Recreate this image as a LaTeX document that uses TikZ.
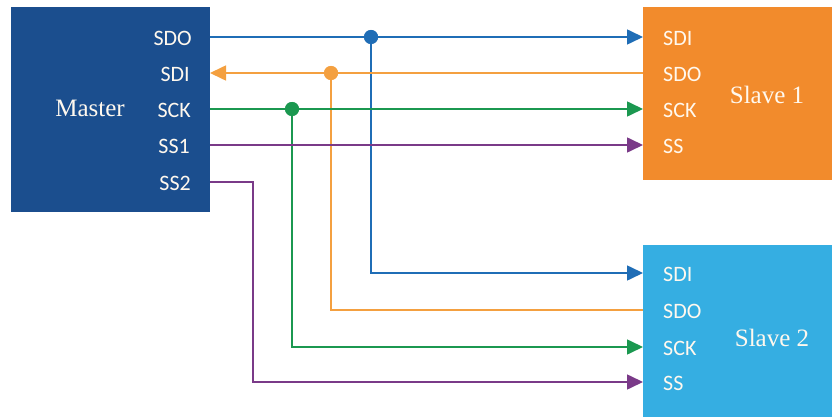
\documentclass[tikz,border=0pt]{standalone}
\usepackage{fontspec}
\setmainfont{Liberation Serif}
\newfontfamily\pinfont{Carlito}
\usetikzlibrary{arrows.meta}
\definecolor{masterblue}{HTML}{1B4E8E}
\definecolor{slaveorange}{HTML}{F28B2C}
\definecolor{slaveblue}{HTML}{35AEE2}
\definecolor{wblue}{HTML}{1F6DB6}
\definecolor{worange}{HTML}{F4A040}
\definecolor{wgreen}{HTML}{1B9850}
\definecolor{wpurple}{HTML}{7A3A88}
\definecolor{cream}{HTML}{FFF8EE}
\begin{document}
\begin{tikzpicture}[x=1pt,y=-1pt,
  box/.style={draw=none, inner sep=0pt, outer sep=0pt, anchor=north west},
  pinl/.style={font=\pinfont\fontsize{22}{22}\selectfont, text=cream, inner sep=0pt},
  title/.style={font=\fontsize{25}{25}\selectfont, text=cream, inner sep=0pt, anchor=base},
  wire/.style={line width=1.6pt},
  arr/.style={-{Triangle[length=16pt,width=15pt]}},
  dot/.style={circle, inner sep=0pt, minimum size=14pt}]
\useasboundingbox (0,0) rectangle (832,417);
\fill[white] (0,0) rectangle (832,417);
% boxes
\node[box, fill=masterblue, minimum width=199pt, minimum height=205pt] (M) at (11,7) {};
\node[box, fill=slaveorange, minimum width=189pt, minimum height=173pt] (S1) at (643,7) {};
\node[box, fill=slaveblue, minimum width=189pt, minimum height=172pt] (S2) at (643,245) {};
% titles
\node[title] (tm) at (90,117) {Master};
\node[title] (ts1) at (767,104) {Slave 1};
\node[title] (ts2) at (772,346) {Slave 2};
% master pins
\node[pinl, anchor=east] (lmsdo) at (192,38) {SDO};
\node[pinl, anchor=east] (lmsdi) at (190,74) {SDI};
\node[pinl, anchor=east] (lmsck) at (191,110) {SCK};
\node[pinl, anchor=east] (lmss1) at (190,146) {SS1};
\node[pinl, anchor=east] (lmss2) at (191,183) {SS2};
% slave1 pins
\node[pinl, anchor=west] (la1) at (663,38) {SDI};
\node[pinl, anchor=west] (lb1) at (663,74) {SDO};
\node[pinl, anchor=west] (lc1) at (663,110) {SCK};
\node[pinl, anchor=west] (ld1) at (663,146) {SS};
% slave2 pins
\node[pinl, anchor=west] (la2) at (663,274) {SDI};
\node[pinl, anchor=west] (lb2) at (663,311) {SDO};
\node[pinl, anchor=west] (lc2) at (663,348) {SCK};
\node[pinl, anchor=west] (ld2) at (663,383) {SS};
% pin coordinates
\coordinate (msdo) at (210,37);
\coordinate (msdi) at (210,73);
\coordinate (msck) at (210,109);
\coordinate (mss1) at (210,145);
\coordinate (mss2) at (210,182);
\coordinate (s1sdi) at (643,37);
\coordinate (s1sdo) at (643,73);
\coordinate (s1sck) at (643,109);
\coordinate (s1ss) at (643,145);
\coordinate (s2sdi) at (643,273);
\coordinate (s2sdo) at (643,310);
\coordinate (s2sck) at (643,347);
\coordinate (s2ss) at (643,382);
\coordinate (jp) at (253,182);
% junction dots
\node[dot, fill=wblue] (jb) at (371,37) {};
\node[dot, fill=worange] (jo) at (331,73) {};
\node[dot, fill=wgreen] (jg) at (292,109) {};
% wires
\draw[wire, wblue, arr] (msdo) -- (s1sdi);
\draw[wire, wblue, arr] (jb.center) |- (s2sdi);
\draw[wire, worange, arr] (s1sdo) -- (msdi);
\draw[wire, worange] (s2sdo) -| (jo.center);
\draw[wire, wgreen, arr] (msck) -- (s1sck);
\draw[wire, wgreen, arr] (jg.center) |- (s2sck);
\draw[wire, wpurple, arr] (mss1) -- (s1ss);
\draw[wire, wpurple, arr] (mss2) -- (jp) |- (s2ss);
% redraw dots on top
\fill[wblue] (jb) circle (7pt);
\fill[worange] (jo) circle (7pt);
\fill[wgreen] (jg) circle (7pt);
\end{tikzpicture}
\end{document}
